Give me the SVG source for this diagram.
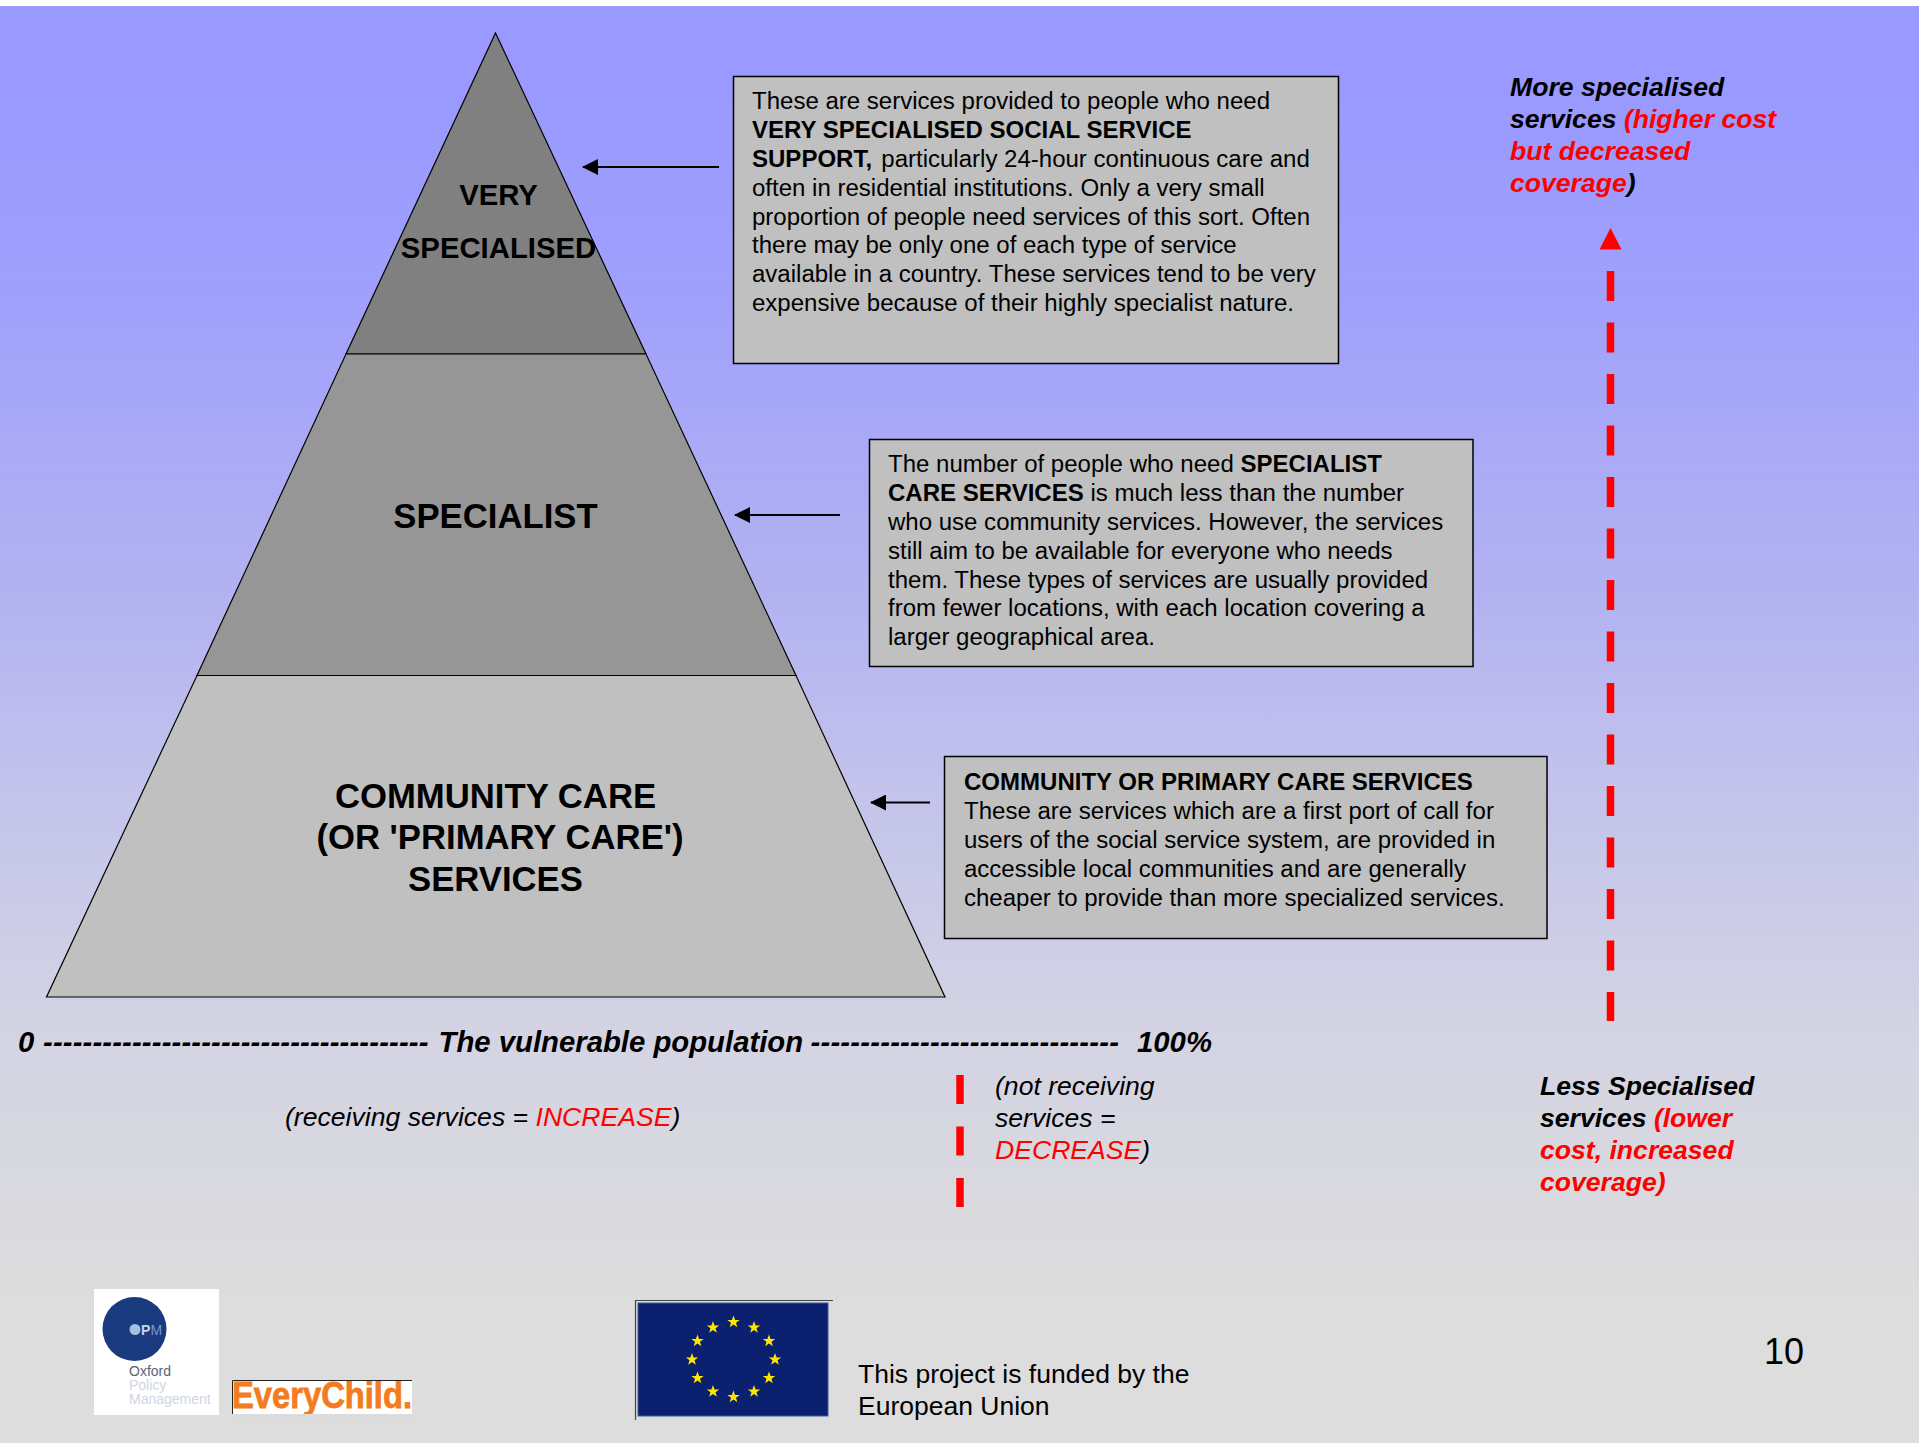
<svg xmlns="http://www.w3.org/2000/svg" xmlns:xlink="http://www.w3.org/1999/xlink" width="1919" height="1443" viewBox="0 0 1919 1443">
<defs>
<linearGradient id="bg" gradientUnits="userSpaceOnUse" x1="0" y1="6" x2="0" y2="1443"><stop offset="0.06" stop-color="#9999ff"/><stop offset="0.2" stop-color="#a0a0fc"/><stop offset="0.415" stop-color="#b3b3f1"/><stop offset="0.555" stop-color="#c4c4ec"/><stop offset="0.71" stop-color="#d3d3e3"/><stop offset="0.9" stop-color="#dddddd"/></linearGradient>
<marker id="ah" markerUnits="userSpaceOnUse" markerWidth="16" markerHeight="16" refX="15" refY="8" orient="auto"><path d="M0 0L16 8L0 16Z" fill="#000"/></marker>
<polygon id="star" points="0,-6.5 1.6,-2 6.2,-2 2.5,0.8 3.8,5.3 0,2.6 -3.8,5.3 -2.5,0.8 -6.2,-2 -1.6,-2" fill="#ffe600"/>
</defs>
<style>
text{font-family:"Liberation Sans",Arial,sans-serif;fill:#000}
.box{fill:#c0c0c0;stroke:#000;stroke-width:1.5}
.t{font-size:24.02px}
.b{font-weight:bold}
.tier{stroke:#000;stroke-width:1.2}
.lab{font-weight:bold;text-anchor:middle}
.bi{font-size:26.6px;font-weight:bold;font-style:italic}
.ax{font-size:29.3px;font-weight:bold;font-style:italic}
.hy{letter-spacing:0.13px}
.hy2{letter-spacing:0.2px}
.i{font-size:26.6px;font-style:italic}
.r{fill:#ff0000}
.arr{stroke:#000;stroke-width:2;fill:none;marker-end:url(#ah)}
.dash{stroke:#ff0000;stroke-width:7.5;fill:none}
</style>
<rect width="1919" height="1443" fill="#fff"/>
<rect y="6" width="1919" height="1437" fill="url(#bg)"/>
<g id="tier-very-specialised">
<polygon class="tier" points="495.5,33 646,354 346,354" fill="#808080"/>
<text class="lab" font-size="29.3" x="498.500" y="205">VERY</text>
<text class="lab" font-size="29.3" x="498.500" y="258">SPECIALISED</text>
</g>
<g id="tier-specialist">
<polygon class="tier" points="346,354 646,354 796,675.5 197,675.5" fill="#969696"/>
<text class="lab" font-size="34.7" x="495.500" y="528">SPECIALIST</text>
</g>
<g id="tier-community">
<polygon class="tier" points="197,675.5 796,675.5 945,997 46.5,997" fill="#c0c0c0"/>
<text class="lab" font-size="34.7" x="495.500" y="808">COMMUNITY CARE</text>
<text class="lab" font-size="34.7" x="500" y="849">(OR 'PRIMARY CARE')</text>
<text class="lab" font-size="34.7" x="495.500" y="891">SERVICES</text>
</g>
<g id="box-very-specialised">
<rect class="box" x="733.5" y="76.5" width="605" height="287"/>
<text class="t" x="752" y="109">These are services provided to people who need</text>
<text class="t b" x="752" y="138">VERY SPECIALISED SOCIAL SERVICE</text>
<text class="t" x="752" y="167"><tspan class="b">SUPPORT,</tspan><tspan dx="2.5"> particularly 24-hour continuous care and</tspan></text>
<text class="t" x="752" y="195.500">often in residential institutions. Only a very small</text>
<text class="t" x="752" y="224.500">proportion of people need services of this sort. Often</text>
<text class="t" x="752" y="253">there may be only one of each type of service</text>
<text class="t" x="752" y="282">available in a country. These services tend to be very</text>
<text class="t" x="752" y="310.500">expensive because of their highly specialist nature.</text>
</g>
<g id="box-specialist">
<rect class="box" x="869.500" y="439.500" width="603.500" height="227"/>
<text class="t" x="888" y="472"><tspan>The number of people who need </tspan><tspan class="b">SPECIALIST</tspan></text>
<text class="t" x="888" y="501"><tspan class="b">CARE SERVICES</tspan> is much less than the number</text>
<text class="t" x="888" y="530">who use community services. However, the services</text>
<text class="t" x="888" y="559">still aim to be available for everyone who needs</text>
<text class="t" x="888" y="588">them. These types of services are usually provided</text>
<text class="t" x="888" y="616">from fewer locations, with each location covering a</text>
<text class="t" x="888" y="645">larger geographical area.</text>
</g>
<g id="box-community">
<rect class="box" x="944.500" y="756.500" width="602.500" height="182"/>
<text class="t b" x="964" y="790">COMMUNITY OR PRIMARY CARE SERVICES</text>
<text class="t" x="964" y="819">These are services which are a first port of call for</text>
<text class="t" x="964" y="848">users of the social service system, are provided in</text>
<text class="t" x="964" y="877">accessible local communities and are generally</text>
<text class="t" x="964" y="905.500">cheaper to provide than more specialized services.</text>
</g>
<g id="connectors">
<line class="arr" x1="719" y1="167" x2="583" y2="167"/>
<line class="arr" x1="840" y1="515" x2="735" y2="515"/>
<line class="arr" x1="930" y1="802.500" x2="871" y2="802.500"/>
<line class="dash" x1="1610.500" y1="271" x2="1610.500" y2="1021" stroke-dasharray="30 21.5"/>
<polygon class="r" points="1610.500,228 1621.500,249.500 1599.500,249.500"/>
<line class="dash" x1="960" y1="1075" x2="960" y2="1207" stroke-dasharray="29 22.5"/>
</g>
<g id="label-more">
<text class="bi" x="1510" y="96">More specialised</text>
<text class="bi" x="1510" y="128">services <tspan class="r">(higher cost</tspan></text>
<text class="bi r" x="1510" y="160">but decreased</text>
<text class="bi" x="1510" y="192"><tspan class="r">coverage</tspan>)</text>
</g>
<g id="label-less">
<text class="bi" x="1540" y="1095">Less Specialised</text>
<text class="bi" x="1540" y="1127">services <tspan class="r">(lower</tspan></text>
<text class="bi r" x="1540" y="1159">cost, increased</text>
<text class="bi r" x="1540" y="1191">coverage)</text>
</g>
<g id="axis">
<text class="ax" x="18" y="1052">0<tspan class="hy" x="43">---------------------------------------</tspan><tspan x="438.500">The vulnerable population</tspan><tspan class="hy2" x="810.500">-------------------------------</tspan><tspan x="1137">100%</tspan></text>
<text class="i" x="285" y="1126">(receiving services = <tspan class="r">INCREASE</tspan>)</text>
<text class="i" x="995" y="1095">(not receiving</text>
<text class="i" x="995" y="1127">services =</text>
<text class="i" x="995" y="1159"><tspan class="r">DECREASE</tspan>)</text>
</g>
<g id="logo-opm">
<rect x="94" y="1289" width="125" height="126" fill="#fff"/>
<circle cx="134.500" cy="1329" r="32" fill="#1a3a80"/>
<circle cx="135" cy="1329.500" r="5.500" fill="#a4bfe4"/>
<text x="141" y="1335" font-size="14" style="fill:#c4d4ea;font-weight:bold">P</text>
<text x="150.500" y="1335" font-size="14" style="fill:#7f96c4">M</text>
<text x="129" y="1376" font-size="14" style="fill:#5b6377">Oxford</text>
<text x="129" y="1390" font-size="14" style="fill:#ccd6e6">Policy</text>
<text x="129" y="1404" font-size="14" style="fill:#ccd6e6">Management</text>
</g>
<g id="logo-everychild">
<rect x="232" y="1380" width="180" height="34" fill="#fff"/>
<text x="232" y="1408" font-size="37" textLength="180" lengthAdjust="spacingAndGlyphs" style="fill:#f47b20;stroke:#f47b20;stroke-width:0.8;font-weight:bold">EveryChild.</text>
<rect x="232" y="1414" width="180" height="4" fill="#dbdbde"/>
<path d="M232.500 1414V1380.500H412" fill="none" stroke="#222" stroke-width="1"/>
</g>
<g id="logo-eu">
<path d="M635.500 1420V1300.500H833" fill="none" stroke="#444" stroke-width="1.2"/>
<rect x="638" y="1303" width="190" height="113" fill="#0b2170" stroke="#3e5a9a" stroke-width="1"/>
<use xlink:href="#star" href="#star" x="733.500" y="1322"/>
<use xlink:href="#star" href="#star" x="754" y="1327.500"/>
<use xlink:href="#star" href="#star" x="769" y="1341"/>
<use xlink:href="#star" href="#star" x="775" y="1359.500"/>
<use xlink:href="#star" href="#star" x="769" y="1378"/>
<use xlink:href="#star" href="#star" x="754" y="1391.500"/>
<use xlink:href="#star" href="#star" x="733.500" y="1397"/>
<use xlink:href="#star" href="#star" x="713" y="1391.500"/>
<use xlink:href="#star" href="#star" x="697.500" y="1378"/>
<use xlink:href="#star" href="#star" x="692" y="1359.500"/>
<use xlink:href="#star" href="#star" x="697.500" y="1341"/>
<use xlink:href="#star" href="#star" x="713" y="1327.500"/>
</g>
<g id="footer">
<text x="858" y="1383" font-size="26.500">This project is funded by the</text>
<text x="858" y="1415" font-size="26.500">European Union</text>
<text x="1764" y="1364" font-size="36">10</text>
</g>
</svg>
